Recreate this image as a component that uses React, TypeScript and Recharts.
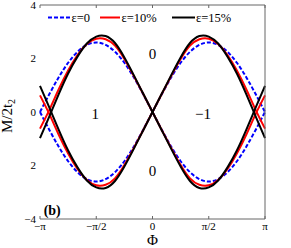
import { LineChart, Line, XAxis, YAxis, ReferenceDot, Label } from 'recharts';

// Phase samples (rad), step pi/12
const phi = [
  -3.1416, -2.8798, -2.618, -2.3562, -2.0944, -1.8326, -1.5708, -1.309, -1.0472, -0.7854, -0.5236, -0.2618, 0,
  0.2618, 0.5236, 0.7854, 1.0472, 1.309, 1.5708, 1.8326, 2.0944, 2.3562, 2.618, 2.8798, 3.1416,
];

// eps = 0 (blue dashed)
const eps0A = [
  0, 0.67, 1.3, 1.84, 2.25, 2.51, 2.6, 2.51, 2.25, 1.84, 1.3, 0.67, 0,
  -0.67, -1.3, -1.84, -2.25, -2.51, -2.6, -2.51, -2.25, -1.84, -1.3, -0.67, 0,
];
const eps0B = [
  0, -0.67, -1.3, -1.84, -2.25, -2.51, -2.6, -2.51, -2.25, -1.84, -1.3, -0.67, 0,
  0.67, 1.3, 1.84, 2.25, 2.51, 2.6, 2.51, 2.25, 1.84, 1.3, 0.67, 0,
];

// eps = 10% (red)
const eps10A = [
  -0.62, 0.08, 0.85, 1.55, 2.13, 2.54, 2.74, 2.72, 2.48, 1.98, 1.35, 0.68, 0,
  -0.68, -1.35, -1.98, -2.48, -2.72, -2.74, -2.54, -2.13, -1.55, -0.85, -0.08, 0.62,
];
const eps10B = [
  0.62, -0.08, -0.85, -1.55, -2.13, -2.54, -2.74, -2.72, -2.48, -1.98, -1.35, -0.68, 0,
  0.68, 1.35, 1.98, 2.48, 2.72, 2.74, 2.54, 2.13, 1.55, 0.85, 0.08, -0.62,
];

// eps = 15% (black)
const eps15A = [
  -0.98, -0.16, 0.67, 1.44, 2.07, 2.56, 2.82, 2.84, 2.58, 2.04, 1.38, 0.69, 0,
  -0.69, -1.38, -2.04, -2.58, -2.84, -2.82, -2.56, -2.07, -1.44, -0.67, 0.16, 0.98,
];
const eps15B = [
  0.98, 0.16, -0.67, -1.44, -2.07, -2.56, -2.82, -2.84, -2.58, -2.04, -1.38, -0.69, 0,
  0.69, 1.38, 2.04, 2.58, 2.84, 2.82, 2.56, 2.07, 1.44, 0.67, -0.16, -0.98,
];

const xTicks = [-3.1416, -1.5708, 0, 1.5708, 3.1416];
const xTickLabels = ['−π', '−π/2', '0', 'π/2', 'π'];
const yTicks = [-4, -2, 0, 2, 4];
const yTickLabels = ['−4', '2', '0', '2', '4'];

// region labels (Chern numbers) and panel tag
const regionLabels = [
  { x: 0, y: 2.19, text: '0' },
  { x: -1.6, y: -0.06, text: '1' },
  { x: 1.41, y: -0.06, text: '−1' },
  { x: 0, y: -2.18, text: '0' },
];

const SERIF = '"Liberation Serif", "Times New Roman", serif';
const BORDER = '#666';

const rows = phi.map((p, i) => ({
  phi: p,
  eps0A: eps0A[i],
  eps0B: eps0B[i],
  eps10A: eps10A[i],
  eps10B: eps10B[i],
  eps15A: eps15A[i],
  eps15B: eps15B[i],
}));

function YTitle(props: any) {
  const vb = props.viewBox || { x: 0, y: 4, width: 40, height: 215 };
  const cx = vb.x + 7;
  const cy = vb.y + vb.height / 2 + 4;
  return (
    <text
      x={cx}
      y={cy}
      transform={`rotate(-90 ${cx} ${cy})`}
      textAnchor="middle"
      dominantBaseline="central"
      fontFamily={SERIF}
      fontSize={15}
      fill="#000"
    >
      M/2t
      <tspan dy={4} fontSize={10}>
        2
      </tspan>
    </text>
  );
}

function LegendOverlay() {
  return (
    <svg width={291} height={30} style={{ position: 'absolute', left: 0, top: 0, pointerEvents: 'none' }}>
      <line x1={48} x2={70} y1={17.5} y2={17.5} stroke="#0000ff" strokeWidth={2} strokeDasharray="4 2" />
      <text x={71.5} y={21.6} fontFamily={SERIF} fontSize={12.5} fill="#000">ε=0</text>
      <line x1={100} x2={120} y1={17.5} y2={17.5} stroke="#ff0000" strokeWidth={2} />
      <text x={121.5} y={21.6} fontFamily={SERIF} fontSize={12.5} fill="#000">ε=10%</text>
      <line x1={172} x2={195} y1={17.5} y2={17.5} stroke="#000" strokeWidth={2} />
      <text x={196} y={21.6} fontFamily={SERIF} fontSize={12.5} fill="#000">ε=15%</text>
    </svg>
  );
}

export default function App() {
  const tickStyle = { fill: '#000', fontSize: 11, fontFamily: SERIF };
  return (
    <div style={{ position: 'absolute', left: 0, top: 0, width: 291, height: 248, background: '#fff' }}>
      <LineChart width={291} height={248} data={rows} margin={{ top: 4, right: 25, bottom: 0, left: 0 }}>
        <XAxis
          dataKey="phi"
          type="number"
          domain={[-3.1416, 3.1416]}
          ticks={xTicks}
          interval={0}
          tickFormatter={(v: number) => xTickLabels[xTicks.indexOf(v)] ?? ''}
          tickSize={-3}
          tickMargin={6}
          height={29}
          stroke={BORDER}
          tick={tickStyle}
        >
          <Label value="Φ" position="insideBottom" offset={3} fontSize={15} fontFamily={SERIF} fill="#000" />
        </XAxis>
        <XAxis
          xAxisId="top"
          orientation="top"
          dataKey="phi"
          type="number"
          domain={[-3.1416, 3.1416]}
          ticks={xTicks}
          interval={0}
          tickFormatter={() => ''}
          tickSize={-3}
          height={1}
          stroke={BORDER}
        />
        <YAxis
          type="number"
          domain={[-4, 4]}
          ticks={yTicks}
          interval={0}
          tickFormatter={(v: number) => yTickLabels[yTicks.indexOf(v)] ?? ''}
          axisLine={false}
          tickLine={false}
          tickSize={0}
          tickMargin={4}
          width={40}
          tick={tickStyle}
        >
          <Label content={YTitle} />
        </YAxis>
        <YAxis
          yAxisId="right"
          orientation="right"
          type="number"
          domain={[-4, 4]}
          ticks={yTicks}
          interval={0}
          tickFormatter={() => ''}
          tickSize={-3}
          width={1}
          stroke={BORDER}
        />
        <Line type="natural" dataKey="eps0A" stroke="#0000ff" strokeWidth={2} strokeDasharray="4 2" dot={false} isAnimationActive={false} />
        <Line type="natural" dataKey="eps0B" stroke="#0000ff" strokeWidth={2} strokeDasharray="4 2" dot={false} isAnimationActive={false} />
        <Line type="natural" dataKey="eps10A" stroke="#ff0000" strokeWidth={2} dot={false} isAnimationActive={false} />
        <Line type="natural" dataKey="eps10B" stroke="#ff0000" strokeWidth={2} dot={false} isAnimationActive={false} />
        <Line type="natural" dataKey="eps15A" stroke="#000" strokeWidth={2} dot={false} isAnimationActive={false} />
        <Line type="natural" dataKey="eps15B" stroke="#000" strokeWidth={2} dot={false} isAnimationActive={false} />
        {regionLabels.map((r, i) => (
          <ReferenceDot
            key={i}
            x={r.x}
            y={r.y}
            r={0}
            fill="none"
            stroke="none"
            ifOverflow="visible"
            label={{ value: r.text, position: 'center', fontSize: 15, fontFamily: SERIF, fill: '#000' }}
          />
        ))}
        <ReferenceDot
          x={-2.8}
          y={-3.67}
          r={0}
          fill="none"
          stroke="none"
          ifOverflow="visible"
          label={{ value: '(b)', position: 'center', fontSize: 14, fontWeight: 'bold', fontFamily: SERIF, fill: '#000' }}
        />
      </LineChart>
      <LegendOverlay />
    </div>
  );
}
